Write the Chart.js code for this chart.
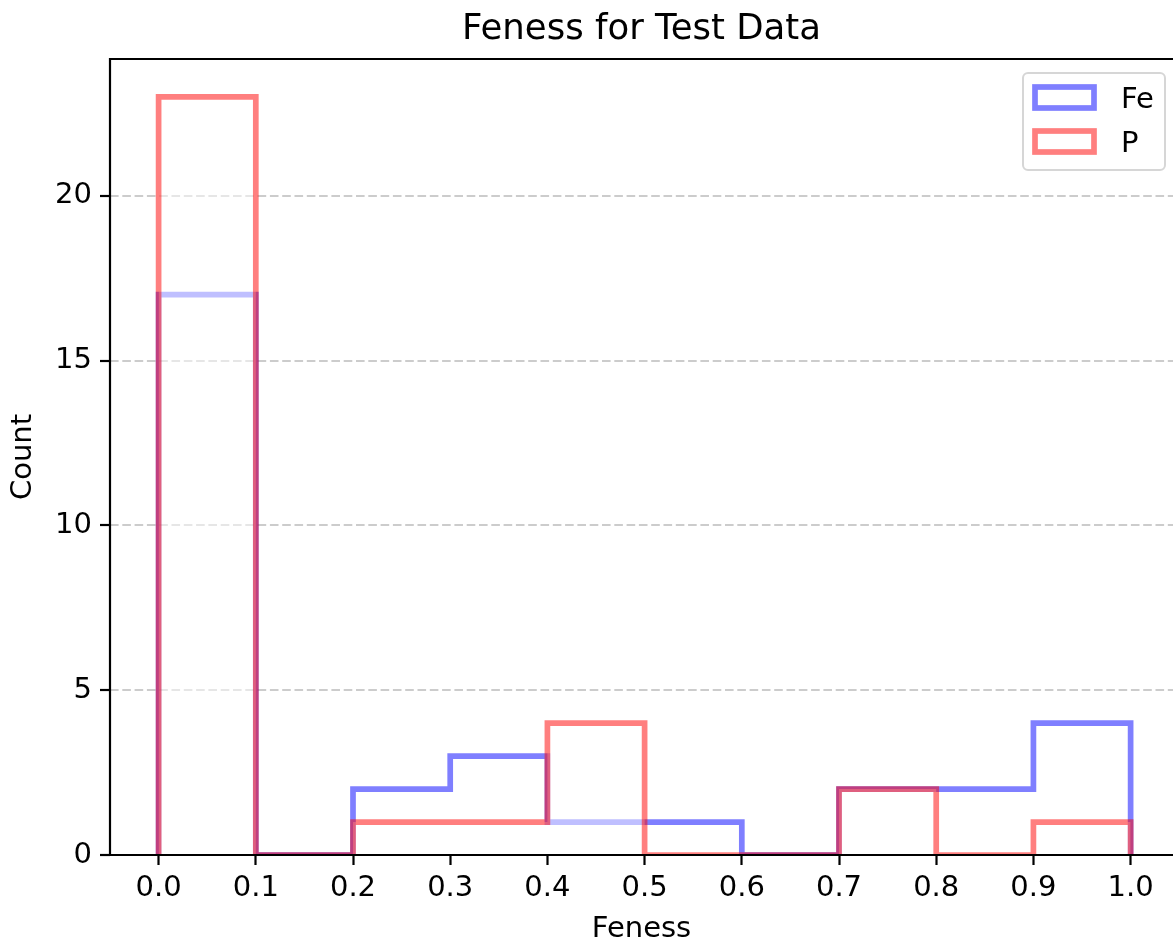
<!DOCTYPE html>
<html lang="en">
  <head>
    <meta charset="UTF-8" />
    <title>Feness for Test Data</title>
    <style>
      body {
        margin: 0;
        background: #ffffff;
      }
      canvas {
        display: block;
      }
    </style>
    <script src="https://cdn.jsdelivr.net/npm/chart.js"></script>
  </head>
  <body>
    <canvas id="fenessChart" width="1173" height="944"></canvas>

    <script>
      // histogram bins and counts per bin
      const binEdges = [0.0, 0.1, 0.2, 0.3, 0.4, 0.5, 0.6, 0.7, 0.8, 0.9, 1.0];
      const feCounts = [17, 0, 2, 3, 1, 1, 0, 2, 2, 4];
      const pCounts = [23, 0, 1, 1, 4, 0, 0, 2, 0, 1];
      const seriesLabels = ["Fe", "P"];
      const xTicks = [0.0, 0.1, 0.2, 0.3, 0.4, 0.5, 0.6, 0.7, 0.8, 0.9, 1.0];
      const yTicks = [0, 5, 10, 15, 20];

      const FONT = "'DejaVu Sans', sans-serif";
      const LINE_W = 5.7;

      // outline of a step histogram: up the first edge, across each bin, down at the end
      function stepOutline(edges, counts) {
        const pts = [{ x: edges[0], y: 0 }];
        counts.forEach((c, i) => {
          pts.push({ x: edges[i], y: c });
          pts.push({ x: edges[i + 1], y: c });
        });
        pts.push({ x: edges[edges.length - 1], y: 0 });
        return pts;
      }

      // axes spines (left, top, bottom), drawn over the bars
      const spines = {
        id: "spines",
        afterDatasetsDraw(chart) {
          const { ctx, chartArea: a } = chart;
          ctx.save();
          ctx.strokeStyle = "#000000";
          ctx.lineWidth = 2.2;
          ctx.lineCap = "square";
          ctx.beginPath();
          ctx.moveTo(a.right + 5, a.top);
          ctx.lineTo(a.left, a.top);
          ctx.lineTo(a.left, a.bottom);
          ctx.lineTo(a.right + 5, a.bottom);
          ctx.stroke();
          ctx.restore();
        },
      };

      // framed legend in the upper right corner with outline patches
      const stepLegend = {
        id: "stepLegend",
        afterDraw(chart) {
          const { ctx, chartArea: a } = chart;
          const fx = a.right - 150;
          const fy = a.top + 14;
          ctx.save();
          ctx.beginPath();
          ctx.roundRect(fx, fy, 142, 97, 5);
          ctx.fillStyle = "rgba(255,255,255,0.8)";
          ctx.fill();
          ctx.strokeStyle = "#d6d6d6";
          ctx.lineWidth = 2;
          ctx.stroke();

          chart.data.datasets
            .slice()
            .sort((p, q) => p.legendIndex - q.legendIndex)
            .forEach((ds, i) => {
              const py = fy + 14 + i * 44;
              ctx.lineJoin = "miter";
              ctx.lineWidth = LINE_W;
              ctx.strokeStyle = ds.borderColor;
              ctx.strokeRect(fx + 12, py, 59, 21);
              ctx.fillStyle = "#000000";
              ctx.font = "29px " + FONT;
              ctx.textBaseline = "alphabetic";
              ctx.textAlign = "left";
              ctx.fillText(ds.label, fx + 98, py + 21);
            });
          ctx.restore();
        },
      };

      const ctx = document.getElementById("fenessChart").getContext("2d");

      new Chart(ctx, {
        type: "line",
        data: {
          datasets: [
            {
              label: seriesLabels[0],
              legendIndex: 0,
              data: stepOutline(binEdges, feCounts),
              borderColor: "rgba(0,0,255,0.5)",
              backgroundColor: "rgba(255,255,255,0.5)",
              borderWidth: LINE_W,
              borderJoinStyle: "miter",
              pointRadius: 0,
              tension: 0,
              fill: false,
              order: 1,
            },
            {
              label: seriesLabels[1],
              legendIndex: 1,
              data: stepOutline(binEdges, pCounts),
              borderColor: "rgba(255,0,0,0.5)",
              backgroundColor: "rgba(255,255,255,0.5)",
              borderWidth: LINE_W,
              borderJoinStyle: "miter",
              pointRadius: 0,
              tension: 0,
              fill: "origin",
              order: 0,
            },
          ],
        },
        options: {
          responsive: false,
          devicePixelRatio: 1,
          animation: false,
          events: [],
          layout: { padding: 0 },
          scales: {
            x: {
              type: "linear",
              min: -0.05,
              max: 1.0436,
              afterBuildTicks: (scale) => {
                scale.ticks = xTicks.map((v) => ({ value: v }));
              },
              afterFit: (scale) => {
                scale.height = 89;
              },
              ticks: {
                callback: (v) => Number(v).toFixed(1),
                color: "#000000",
                font: { family: FONT, size: 29 },
                padding: 6,
                maxRotation: 0,
                autoSkip: false,
              },
              grid: {
                drawOnChartArea: false,
                drawTicks: true,
                tickLength: 10,
                tickColor: "#000000",
                tickWidth: 2.2,
              },
              border: { display: false },
              title: {
                display: true,
                text: "Feness",
                color: "#000000",
                font: { family: FONT, size: 29, lineHeight: 1.0 },
                padding: { top: 0, bottom: 0 },
              },
            },
            y: {
              min: 0,
              max: 24.15,
              afterBuildTicks: (scale) => {
                scale.ticks = yTicks.map((v) => ({ value: v }));
              },
              afterFit: (scale) => {
                scale.width = 110;
              },
              ticks: {
                color: "#000000",
                font: { family: FONT, size: 29 },
                padding: 8,
              },
              grid: {
                color: "#cccccc",
                lineWidth: 2,
                tickLength: 10,
                tickColor: "#000000",
                tickWidth: 2.2,
                tickBorderDash: [],
              },
              border: { display: false, dash: [8.6, 3.7] },
              title: {
                display: true,
                text: "Count",
                color: "#000000",
                font: { family: FONT, size: 29 },
                padding: { top: 6, bottom: 0 },
              },
            },
          },
          plugins: {
            filler: { drawTime: "beforeDatasetDraw" },
            legend: { display: false },
            tooltip: { enabled: false },
            title: {
              display: true,
              text: "Feness for Test Data",
              color: "#000000",
              fullSize: false,
              font: { family: FONT, size: 35.5, weight: "normal", lineHeight: 1.2 },
              padding: { top: 8, bottom: 8.4 },
            },
          },
        },
        plugins: [spines, stepLegend],
      });
    </script>
  </body>
</html>
